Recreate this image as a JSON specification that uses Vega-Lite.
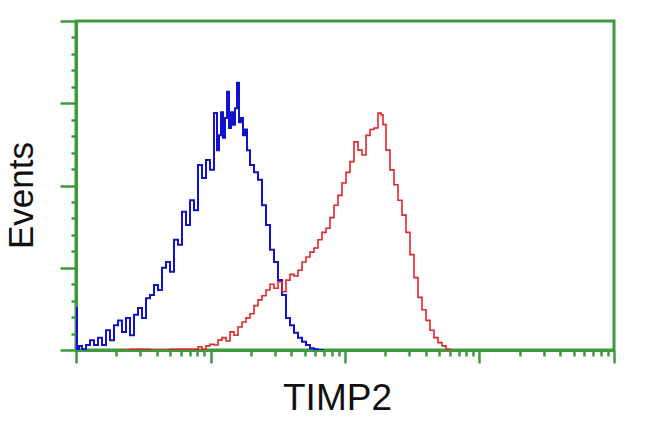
{
  "$schema": "https://vega.github.io/schema/vega-lite/v6.json",
  "width": 538,
  "height": 329,
  "autosize": "none",
  "padding": {"left": 76, "top": 21, "right": 36, "bottom": 82},
  "background": "white",
  "config": {
    "view": {"stroke": "#3d9b3d", "strokeWidth": 3},
    "font": "Liberation Sans"
  },
  "data": {
    "values": [
      {"sample": "control", "intensity": 1.0, "events": 51},
      {"sample": "control", "intensity": 1.035, "events": 1},
      {"sample": "control", "intensity": 1.071, "events": 5},
      {"sample": "control", "intensity": 1.147, "events": 1},
      {"sample": "control", "intensity": 1.228, "events": 6},
      {"sample": "control", "intensity": 1.315, "events": 12},
      {"sample": "control", "intensity": 1.409, "events": 6},
      {"sample": "control", "intensity": 1.508, "events": 15},
      {"sample": "control", "intensity": 1.615, "events": 6},
      {"sample": "control", "intensity": 1.729, "events": 24},
      {"sample": "control", "intensity": 1.852, "events": 12},
      {"sample": "control", "intensity": 1.983, "events": 30},
      {"sample": "control", "intensity": 2.124, "events": 36},
      {"sample": "control", "intensity": 2.274, "events": 22},
      {"sample": "control", "intensity": 2.435, "events": 39},
      {"sample": "control", "intensity": 2.608, "events": 18},
      {"sample": "control", "intensity": 2.793, "events": 43},
      {"sample": "control", "intensity": 2.991, "events": 51},
      {"sample": "control", "intensity": 3.203, "events": 39},
      {"sample": "control", "intensity": 3.43, "events": 63},
      {"sample": "control", "intensity": 3.673, "events": 67},
      {"sample": "control", "intensity": 3.933, "events": 79},
      {"sample": "control", "intensity": 4.212, "events": 73},
      {"sample": "control", "intensity": 4.511, "events": 100},
      {"sample": "control", "intensity": 4.831, "events": 107},
      {"sample": "control", "intensity": 5.173, "events": 95},
      {"sample": "control", "intensity": 5.54, "events": 134},
      {"sample": "control", "intensity": 5.933, "events": 128},
      {"sample": "control", "intensity": 6.353, "events": 168},
      {"sample": "control", "intensity": 6.804, "events": 152},
      {"sample": "control", "intensity": 7.286, "events": 182},
      {"sample": "control", "intensity": 7.803, "events": 170},
      {"sample": "control", "intensity": 8.356, "events": 225},
      {"sample": "control", "intensity": 8.949, "events": 209},
      {"sample": "control", "intensity": 9.581, "events": 231},
      {"sample": "control", "intensity": 10.26, "events": 219},
      {"sample": "control", "intensity": 10.99, "events": 288},
      {"sample": "control", "intensity": 11.37, "events": 243},
      {"sample": "control", "intensity": 11.77, "events": 261},
      {"sample": "control", "intensity": 12.18, "events": 289},
      {"sample": "control", "intensity": 12.6, "events": 258},
      {"sample": "control", "intensity": 13.05, "events": 282},
      {"sample": "control", "intensity": 13.5, "events": 314},
      {"sample": "control", "intensity": 13.97, "events": 270},
      {"sample": "control", "intensity": 14.45, "events": 289},
      {"sample": "control", "intensity": 14.96, "events": 274},
      {"sample": "control", "intensity": 15.48, "events": 294},
      {"sample": "control", "intensity": 16.01, "events": 325},
      {"sample": "control", "intensity": 16.57, "events": 277},
      {"sample": "control", "intensity": 17.15, "events": 282},
      {"sample": "control", "intensity": 17.75, "events": 261},
      {"sample": "control", "intensity": 18.37, "events": 268},
      {"sample": "control", "intensity": 19.01, "events": 243},
      {"sample": "control", "intensity": 20.35, "events": 225},
      {"sample": "control", "intensity": 21.8, "events": 216},
      {"sample": "control", "intensity": 23.34, "events": 207},
      {"sample": "control", "intensity": 25.0, "events": 176},
      {"sample": "control", "intensity": 26.77, "events": 152},
      {"sample": "control", "intensity": 28.66, "events": 122},
      {"sample": "control", "intensity": 30.69, "events": 107},
      {"sample": "control", "intensity": 32.87, "events": 85},
      {"sample": "control", "intensity": 35.2, "events": 67},
      {"sample": "control", "intensity": 37.69, "events": 39},
      {"sample": "control", "intensity": 40.36, "events": 30},
      {"sample": "control", "intensity": 43.22, "events": 21},
      {"sample": "control", "intensity": 46.28, "events": 15},
      {"sample": "control", "intensity": 49.56, "events": 10},
      {"sample": "control", "intensity": 53.07, "events": 6},
      {"sample": "control", "intensity": 56.83, "events": 2},
      {"sample": "control", "intensity": 60.86, "events": 1},
      {"sample": "control", "intensity": 65.17, "events": 0},
      {"sample": "control", "intensity": 69.79, "events": 0},
      {"sample": "TIMP2", "intensity": 2.124, "events": 0},
      {"sample": "TIMP2", "intensity": 2.991, "events": 1},
      {"sample": "TIMP2", "intensity": 4.212, "events": 0},
      {"sample": "TIMP2", "intensity": 5.933, "events": 1},
      {"sample": "TIMP2", "intensity": 7.803, "events": 1},
      {"sample": "TIMP2", "intensity": 8.356, "events": 4},
      {"sample": "TIMP2", "intensity": 8.949, "events": 1},
      {"sample": "TIMP2", "intensity": 9.581, "events": 5},
      {"sample": "TIMP2", "intensity": 10.26, "events": 7},
      {"sample": "TIMP2", "intensity": 10.99, "events": 6},
      {"sample": "TIMP2", "intensity": 11.77, "events": 12},
      {"sample": "TIMP2", "intensity": 12.6, "events": 15},
      {"sample": "TIMP2", "intensity": 13.5, "events": 11},
      {"sample": "TIMP2", "intensity": 14.45, "events": 22},
      {"sample": "TIMP2", "intensity": 15.48, "events": 18},
      {"sample": "TIMP2", "intensity": 16.57, "events": 28},
      {"sample": "TIMP2", "intensity": 17.75, "events": 34},
      {"sample": "TIMP2", "intensity": 19.01, "events": 39},
      {"sample": "TIMP2", "intensity": 20.35, "events": 44},
      {"sample": "TIMP2", "intensity": 21.8, "events": 54},
      {"sample": "TIMP2", "intensity": 23.34, "events": 61},
      {"sample": "TIMP2", "intensity": 25.0, "events": 66},
      {"sample": "TIMP2", "intensity": 26.77, "events": 73},
      {"sample": "TIMP2", "intensity": 28.66, "events": 80},
      {"sample": "TIMP2", "intensity": 30.69, "events": 75},
      {"sample": "TIMP2", "intensity": 32.87, "events": 83},
      {"sample": "TIMP2", "intensity": 35.2, "events": 71},
      {"sample": "TIMP2", "intensity": 37.69, "events": 85},
      {"sample": "TIMP2", "intensity": 40.36, "events": 92},
      {"sample": "TIMP2", "intensity": 43.22, "events": 90},
      {"sample": "TIMP2", "intensity": 46.28, "events": 97},
      {"sample": "TIMP2", "intensity": 49.56, "events": 107},
      {"sample": "TIMP2", "intensity": 53.07, "events": 113},
      {"sample": "TIMP2", "intensity": 56.83, "events": 119},
      {"sample": "TIMP2", "intensity": 60.86, "events": 124},
      {"sample": "TIMP2", "intensity": 65.17, "events": 134},
      {"sample": "TIMP2", "intensity": 69.79, "events": 143},
      {"sample": "TIMP2", "intensity": 74.73, "events": 148},
      {"sample": "TIMP2", "intensity": 80.03, "events": 161},
      {"sample": "TIMP2", "intensity": 85.7, "events": 176},
      {"sample": "TIMP2", "intensity": 91.77, "events": 188},
      {"sample": "TIMP2", "intensity": 98.27, "events": 203},
      {"sample": "TIMP2", "intensity": 105.3, "events": 216},
      {"sample": "TIMP2", "intensity": 112.7, "events": 229},
      {"sample": "TIMP2", "intensity": 120.7, "events": 253},
      {"sample": "TIMP2", "intensity": 129.3, "events": 243},
      {"sample": "TIMP2", "intensity": 138.4, "events": 237},
      {"sample": "TIMP2", "intensity": 148.3, "events": 261},
      {"sample": "TIMP2", "intensity": 158.8, "events": 268},
      {"sample": "TIMP2", "intensity": 170.0, "events": 270},
      {"sample": "TIMP2", "intensity": 182.1, "events": 288},
      {"sample": "TIMP2", "intensity": 188.5, "events": 286},
      {"sample": "TIMP2", "intensity": 195.0, "events": 274},
      {"sample": "TIMP2", "intensity": 208.8, "events": 243},
      {"sample": "TIMP2", "intensity": 223.6, "events": 219},
      {"sample": "TIMP2", "intensity": 239.4, "events": 201},
      {"sample": "TIMP2", "intensity": 256.4, "events": 182},
      {"sample": "TIMP2", "intensity": 274.6, "events": 164},
      {"sample": "TIMP2", "intensity": 294.0, "events": 143},
      {"sample": "TIMP2", "intensity": 314.9, "events": 116},
      {"sample": "TIMP2", "intensity": 337.2, "events": 88},
      {"sample": "TIMP2", "intensity": 361.1, "events": 64},
      {"sample": "TIMP2", "intensity": 386.7, "events": 49},
      {"sample": "TIMP2", "intensity": 414.1, "events": 36},
      {"sample": "TIMP2", "intensity": 443.4, "events": 24},
      {"sample": "TIMP2", "intensity": 474.8, "events": 15},
      {"sample": "TIMP2", "intensity": 508.5, "events": 9},
      {"sample": "TIMP2", "intensity": 544.5, "events": 5},
      {"sample": "TIMP2", "intensity": 583.1, "events": 1},
      {"sample": "TIMP2", "intensity": 624.4, "events": 0}
    ]
  },
  "mark": {"type": "line", "interpolate": "step", "clip": true},
  "encoding": {
    "x": {
      "field": "intensity",
      "type": "quantitative",
      "scale": {"type": "log", "domain": [1, 10000], "nice": false},
      "axis": {
        "title": "TIMP2",
        "titleFont": "Liberation Sans",
        "titleFontSize": 37,
        "titleFontWeight": "normal",
        "titleColor": "#111111",
        "titlePadding": 16,
        "titleX": 261,
        "labels": false,
        "grid": false,
        "domainColor": "#3d9b3d",
        "domainWidth": 3,
        "tickColor": "#3d9b3d",
        "tickWidth": 2.5,
        "tickSize": {"condition": {"test": "indexof([1,10,100,1000,10000], datum.value) >= 0", "value": 13}, "value": 6},
        "values": [1,2,3,4,5,6,7,8,9,10,20,30,40,50,60,70,80,90,100,200,300,400,500,600,700,800,900,1000,2000,3000,4000,5000,6000,7000,8000,9000,10000]
      }
    },
    "y": {
      "field": "events",
      "type": "quantitative",
      "scale": {"domain": [0, 400], "nice": false},
      "axis": {
        "title": "Events",
        "titleFont": "Liberation Sans",
        "titleFontSize": 35,
        "titleFontWeight": "normal",
        "titleColor": "#111111",
        "titlePadding": 19,
        "titleY": 174,
        "labels": false,
        "grid": false,
        "domainColor": "#3d9b3d",
        "domainWidth": 3,
        "tickColor": "#3d9b3d",
        "tickWidth": 2.5,
        "tickSize": {"condition": {"test": "datum.value % 100 === 0", "value": 16}, "value": 5},
        "values": [0,20,40,60,80,100,120,140,160,180,200,220,240,260,280,300,320,340,360,380,400]
      }
    },
    "color": {
      "field": "sample",
      "type": "nominal",
      "scale": {"domain": ["control", "TIMP2"], "range": ["#1212cc", "#e3262b"]},
      "legend": null
    },
    "strokeWidth": {
      "field": "sample",
      "type": "nominal",
      "scale": {"domain": ["control", "TIMP2"], "range": [2, 1.6]},
      "legend": null
    }
  }
}
